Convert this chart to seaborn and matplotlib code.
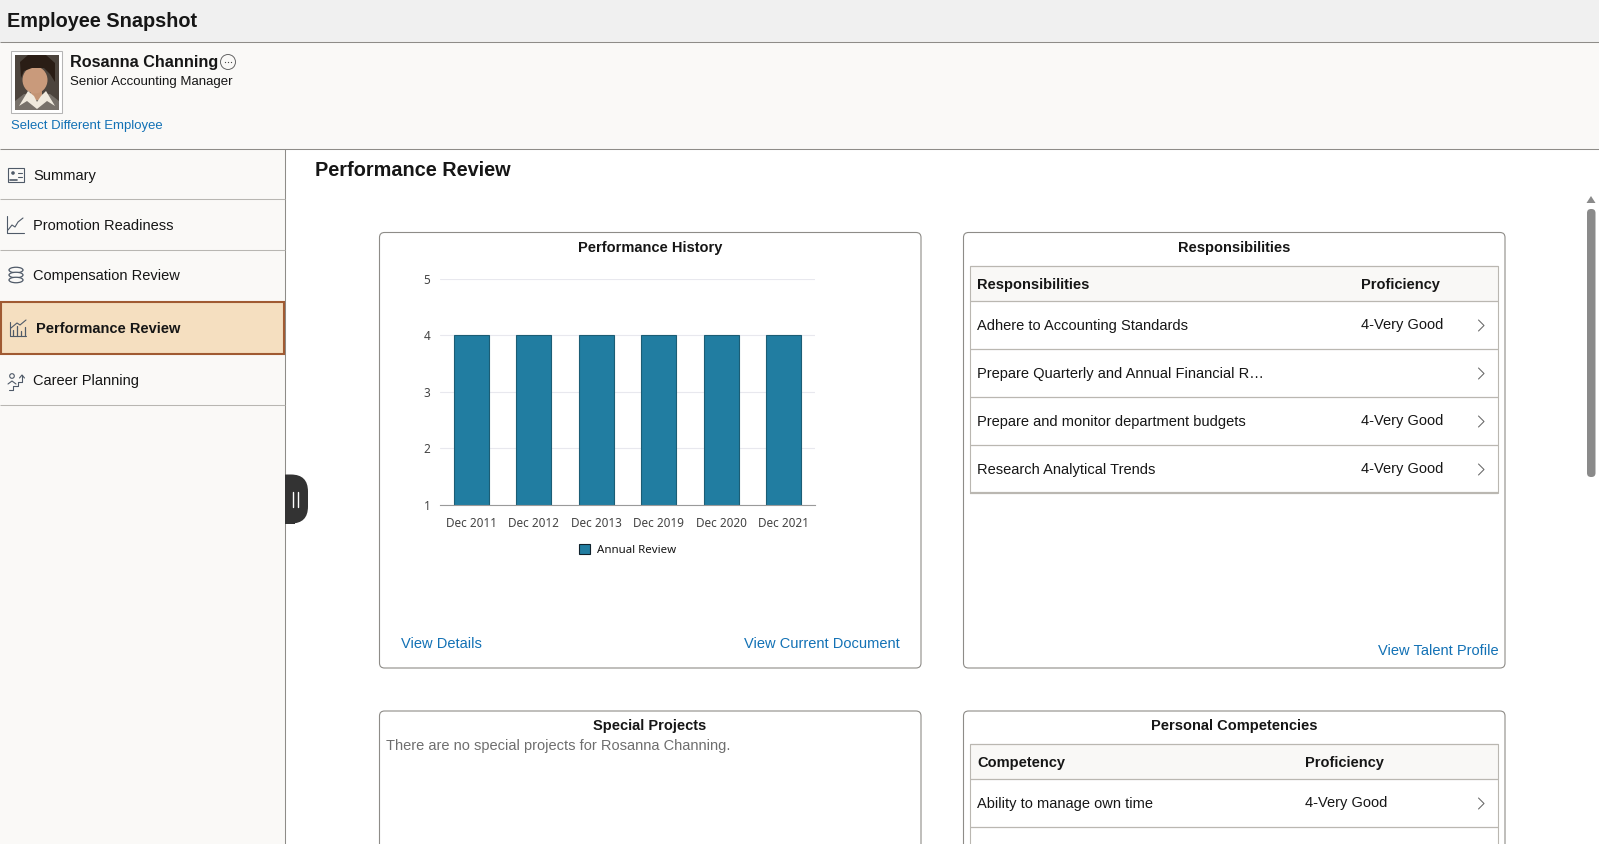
import matplotlib
matplotlib.use("Agg")
import matplotlib.pyplot as plt
from matplotlib.patches import Rectangle, FancyBboxPatch, Circle, Ellipse, Polygon
import pandas as pd
import seaborn as sns

# chart data
review_dates = ["Dec 2011", "Dec 2012", "Dec 2013", "Dec 2019", "Dec 2020", "Dec 2021"]
review_scores = [4, 4, 4, 4, 4, 4]
score_ticks = [1, 2, 3, 4, 5]
series_name = "Annual Review"

# page text
nav_items = ["Summary", "Promotion Readiness", "Compensation Review", "Performance Review", "Career Planning"]
resp_names = ["Adhere to Accounting Standards", "Prepare Quarterly and Annual Financial R\u2026",
              "Prepare and monitor department budgets", "Research Analytical Trends"]
resp_levels = ["4-Very Good", "", "4-Very Good", "4-Very Good"]
comp_names = ["Ability to manage own time"]
comp_levels = ["4-Very Good"]

INK = "#161616"
LINK = "#1271b5"
RULE = "#8e8c88"
TABLE_RULE = "#bab7b1"
PANEL_BG = "#faf9f7"
BAR = "#217da1"
ICON = "#4f5a68"
BODY = 14.6

sns.set_theme(style="whitegrid")
plt.rcParams["font.family"] = ["Liberation Sans", "DejaVu Sans"]


def pt(px):
    return px * 0.72


fig = plt.figure(figsize=(15.99, 8.44), dpi=100, facecolor="white")
ui = fig.add_axes([0, 0, 1, 1])
ui.set_xlim(0, 1599)
ui.set_ylim(844, 0)
ui.axis("off")


def label(x, y, s, size=BODY, weight="normal", color=INK, ha="left"):
    ui.text(x, y - 0.8, s, fontsize=pt(size), fontweight=weight, color=color, ha=ha, va="center_baseline", zorder=8)


def hline(y, x0, x1, color=RULE, lw=0.75):
    ui.plot([x0, x1], [y, y], color=color, lw=lw, solid_capstyle="butt")


def box(x0, y0, x1, y1, fc, ec="none", lw=0.75, z=1):
    ui.add_patch(Rectangle((x0, y0), x1 - x0, y1 - y0, fc=fc, ec=ec, lw=lw, zorder=z))


def panel(x0, y0, x1, y1):
    ui.add_patch(FancyBboxPatch((x0, y0), x1 - x0, y1 - y0, boxstyle="round,pad=0,rounding_size=5",
                                fc="white", ec=RULE, lw=0.8, zorder=1))


def chevron(x, y):
    ui.plot([x - 3, x + 2.5, x - 3], [y - 5.5, y, y + 5.5], color="#666666", lw=0.75, zorder=3)


def table(x0, x1, top, head_bottom, row_h, n_rows, bottom_line, col2, head1, head2, names, levels):
    box(x0, top, x1, head_bottom, "#f9f8f6", z=2)
    hline(top, x0, x1, TABLE_RULE, 0.9)
    hline(head_bottom, x0, x1, TABLE_RULE, 0.9)
    label(x0 + 7, (top + head_bottom) / 2 + 1, head1, weight="bold")
    label(col2, (top + head_bottom) / 2 + 1, head2, weight="bold")
    ends = head_bottom + row_h * n_rows
    for i in range(n_rows):
        yb = head_bottom + row_h * (i + 1)
        ym = yb - row_h / 2
        label(x0 + 7, ym + 0.5, names[i])
        if levels[i]:
            label(col2, ym - 0.5, levels[i])
        chevron(x1 - 16, ym + 0.5)
        hline(yb, x0, x1, TABLE_RULE, 1.6 if (bottom_line and i == n_rows - 1) else 0.9)
    bottom = ends if bottom_line else 844
    ui.plot([x0, x0], [top, bottom], color=TABLE_RULE, lw=0.8)
    ui.plot([x1, x1], [top, bottom], color=TABLE_RULE, lw=0.8)


# header, profile strip, sidebar
box(0, 0, 1599, 42, "#f0f0f0")
box(0, 42, 1599, 149, PANEL_BG)
box(0, 149, 285, 844, PANEL_BG)
hline(42, 0, 1599)
hline(149, 0, 1599)
ui.plot([285, 285], [149, 844], color=RULE, lw=0.75)
label(7, 20.5, "Employee Snapshot", size=19.9, weight="bold")

# portrait
box(11, 51, 62, 113, "white", ec="#b5b5b5")
box(15, 55, 59, 110, "#4c443d", z=2)
ui.add_patch(Polygon([[15, 110], [15, 101], [24, 94], [50, 94], [59, 101], [59, 110]], fc="#77716a", ec="none", zorder=3))
box(31, 88, 42, 100, "#c39474", z=3)
ui.add_patch(Polygon([[19, 106], [28, 91], [34, 96], [37, 102], [41, 96], [46, 91], [55, 106], [47, 101], [37, 109], [27, 101]],
                     fc="#efe9dd", ec="none", zorder=4))
ui.add_patch(Ellipse((35, 80), 25, 27, fc="#c99a7b", ec="none", zorder=3))
ui.add_patch(Polygon([[21, 78], [20, 62], [28, 55], [46, 55], [55, 63], [55, 82], [50, 74], [44, 68], [32, 68], [24, 71]],
                     fc="#2a1d15", ec="none", zorder=4))

label(70, 61.5, "Rosanna Channing", size=16.2, weight="bold")
label(70, 81.5, "Senior Accounting Manager", size=13.2)
label(11, 125.5, "Select Different Employee", size=13.1, color=LINK)
ui.add_patch(Circle((228, 62), 7.5, fc="none", ec="#666666", lw=0.7))
ui.plot([225, 228, 231], [62, 62, 62], ls="none", marker="o", ms=0.9, mew=0, color="#444444")

# sidebar nav
box(0.8, 301.5, 284.2, 353.5, "#f5dfc0", ec="#a05a32", lw=1.5, z=2)
nav_y = [175, 225, 275, 328, 380]
for i, (name, y) in enumerate(zip(nav_items, nav_y)):
    if i == 3:
        label(35.5, y, name, weight="bold")
    else:
        label(33, y, name)
for y in [198.8, 249.5, 405]:
    hline(y, 0, 285, "#b8b6b2", 0.75)

# nav icons
ui.add_patch(Rectangle((8, 168), 16, 14, fc="none", ec=ICON, lw=0.8))
ui.add_patch(Circle((13, 173), 1.8, fc=ICON, ec="none"))
ui.plot([9.8, 16.5], [179.5, 179.5], color=ICON, lw=1.2)
ui.plot([18, 22], [172.5, 172.5], color=ICON, lw=0.8)
ui.plot([18, 22], [176.5, 176.5], color=ICON, lw=0.8)
ui.plot([6.5, 6.5, 24], [216, 232.5, 232.5], color=ICON, lw=0.8)
ui.plot([8, 12, 15, 18, 23], [230, 225, 227, 222, 218], color=ICON, lw=0.8)
for cy in [270, 275, 280]:
    ui.add_patch(Ellipse((16, cy), 14, 5.5, fc=PANEL_BG, ec=ICON, lw=0.9))
ui.plot([10, 10, 26], [322, 336, 336], color=ICON, lw=0.8, zorder=4)
for bx, bh in zip([13, 17, 21, 25], [6, 10, 5, 9]):
    ui.plot([bx, bx], [336, 336 - bh], color=ICON, lw=0.9, zorder=4)
ui.plot([11, 17, 20, 26], [328, 323, 325, 320], color=ICON, lw=0.8, zorder=4)
ui.add_patch(Circle((12, 376), 2.3, fc="none", ec=ICON, lw=0.8))
ui.plot([8, 12, 16], [384, 381, 384], color=ICON, lw=0.8)
ui.plot([9, 13, 13, 18, 18, 22, 22], [390, 390, 386, 386, 382, 382, 375], color=ICON, lw=0.8)
ui.plot([19.5, 22, 24.5], [378, 375, 378], color=ICON, lw=0.8)

# collapse handle
ui.add_patch(FancyBboxPatch((270, 474.5), 38, 49, boxstyle="round,pad=0,rounding_size=17",
                            fc="#333333", ec="none", zorder=5))
box(270, 474, 285, 524, PANEL_BG, z=6)
box(285, 474.5, 295, 523.5, "#333333", z=6)
ui.plot([293, 293], [491.5, 506.5], color="white", lw=1.0, zorder=7)
ui.plot([297.5, 297.5], [491.5, 506.5], color="white", lw=1.0, zorder=7)

# scrollbar
ui.add_patch(FancyBboxPatch((1587, 209), 8.5, 268, boxstyle="round,pad=0,rounding_size=4",
                            fc="#8a8a8a", ec="none"))
ui.add_patch(Polygon([[1586.5, 203], [1591, 196], [1595.5, 203]], fc="#8a8a8a", ec="none"))

label(315, 169, "Performance Review", size=19.9, weight="bold")

# panels
panel(379.5, 232.5, 921, 668)
panel(963.5, 232.5, 1505, 668)
panel(379.5, 711, 921, 870)
panel(963.5, 711, 1505, 870)

label(650, 247, "Performance History", weight="bold", ha="center")
label(1234, 247, "Responsibilities", weight="bold", ha="center")
label(650, 725.5, "Special Projects", weight="bold", ha="center")
label(1234, 725.5, "Personal Competencies", weight="bold", ha="center")

label(401, 643.5, "View Details", color=LINK)
label(899.5, 643.5, "View Current Document", color=LINK, ha="right")
label(1498.5, 650, "View Talent Profile", color=LINK, ha="right")
label(386, 745.5, "There are no special projects for Rosanna Channing.", color="#6e6e6e")

table(970, 1497.5, 266, 301, 48, 4, True, 1361, "Responsibilities", "Proficiency", resp_names, resp_levels)
table(970, 1497.5, 744, 779, 48, 1, False, 1305, "Competency", "Proficiency", comp_names, comp_levels)

# bar chart
df = pd.DataFrame({"date": review_dates, "score": review_scores})
ax = fig.add_axes([440.2 / 1599, 1 - 504.8 / 844, (815 - 440.5) / 1599, (504.8 - 279) / 844])
ax.patch.set_alpha(0)
sns.barplot(data=df, x="date", y="score", color=BAR, saturation=1, width=0.56,
            edgecolor="#1b5d75", linewidth=0.8, label=series_name, ax=ax)
ax.set_ylim(score_ticks[0], score_ticks[-1])
ax.set_yticks(score_ticks)
ax.set_xlabel("")
ax.set_ylabel("")
ax.grid(axis="x", visible=False)
ax.grid(axis="y", color="#e8e8ee", lw=0.8)
ax.set_axisbelow(True)
sns.despine(ax=ax, left=True)
ax.spines["bottom"].set_color("#9a9a9a")
ax.spines["bottom"].set_linewidth(0.8)
ax.tick_params(length=0)
ax.tick_params(axis="x", pad=9, labelsize=pt(11.8), labelcolor="#444444")
ax.tick_params(axis="y", pad=7, labelsize=pt(11.8), labelcolor="#444444")
for t in ax.get_xticklabels() + ax.get_yticklabels():
    t.set_fontfamily("Noto Sans")
leg = ax.legend(loc="center", bbox_to_anchor=(0.5, -0.2), frameon=False, fontsize=pt(11.5),
                handlelength=0.95, handleheight=0.95, handletextpad=0.6, borderpad=0)
for h in leg.legend_handles:
    h.set_edgecolor("#10222c")
    h.set_linewidth(0.8)
for t in leg.get_texts():
    t.set_fontfamily("Noto Sans")
    t.set_color(INK)

fig.savefig("out.png", dpi=100)
